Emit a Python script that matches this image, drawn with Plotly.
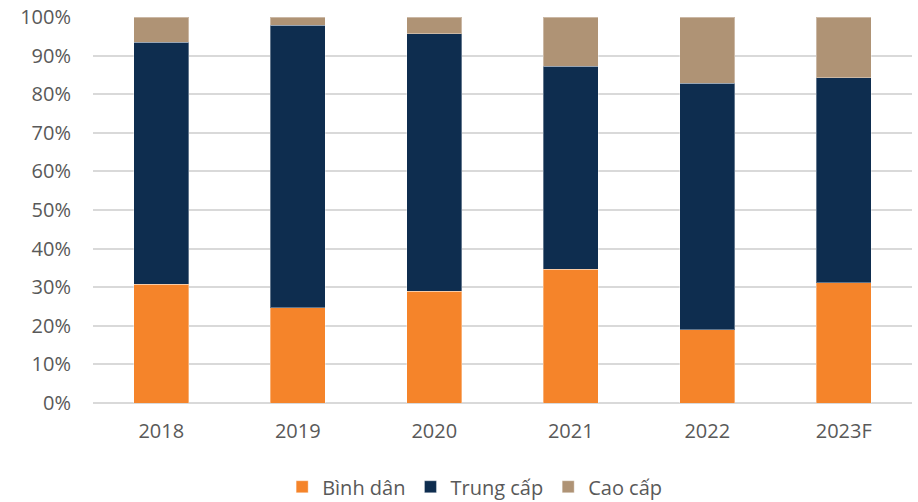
import plotly.graph_objects as go

years = ["2018", "2019", "2020", "2021", "2022", "2023F"]
binh_dan = [30.8, 24.7, 28.9, 34.7, 19.0, 31.2]
trung_cap = [62.6, 73.2, 66.7, 52.6, 63.9, 53.0]
cao_cap = [6.6, 2.1, 4.4, 12.7, 17.1, 15.8]
y_ticks = [0, 10, 20, 30, 40, 50, 60, 70, 80, 90, 100]
y_tick_labels = [f"{v}%" for v in y_ticks]

series = [
    ("Bình dân", binh_dan, "#F5842A"),
    ("Trung cấp", trung_cap, "#0E2D4F"),
    ("Cao cấp", cao_cap, "#AF9375"),
]

fig = go.Figure()
for name, vals, color in series:
    fig.add_trace(go.Bar(
        x=years, y=vals, name=name,
        marker=dict(color=color, line=dict(color="rgba(255,255,255,0.35)", width=1)),
    ))

fig.update_layout(
    width=918, height=502,
    barmode="stack", bargap=0.6,
    margin=dict(l=93, r=6, t=17, b=99, autoexpand=False),
    paper_bgcolor="white", plot_bgcolor="white",
    font=dict(family="Open Sans, Noto Sans, sans-serif", color="#595959", size=20),
    showlegend=True,
    legend=dict(
        orientation="h", x=0.466, xanchor="center", y=-0.217, yanchor="middle",
        font=dict(size=20, color="#595959"), traceorder="normal",
        itemwidth=30, tracegroupgap=0,
    ),
    xaxis=dict(showgrid=False, showline=False, ticks="", automargin=False,
               ticklabelstandoff=14, tickfont=dict(size=20)),
    yaxis=dict(
        range=[0, 100], tickvals=y_ticks, ticktext=y_tick_labels,
        showgrid=True, gridcolor="#D9D9D9", gridwidth=1.5,
        zeroline=True, zerolinecolor="#D9D9D9", zerolinewidth=1.5,
        showline=False, ticks="", ticklabelstandoff=21, automargin=False,
        tickfont=dict(size=20),
    ),
)

fig.write_html("out.html")
